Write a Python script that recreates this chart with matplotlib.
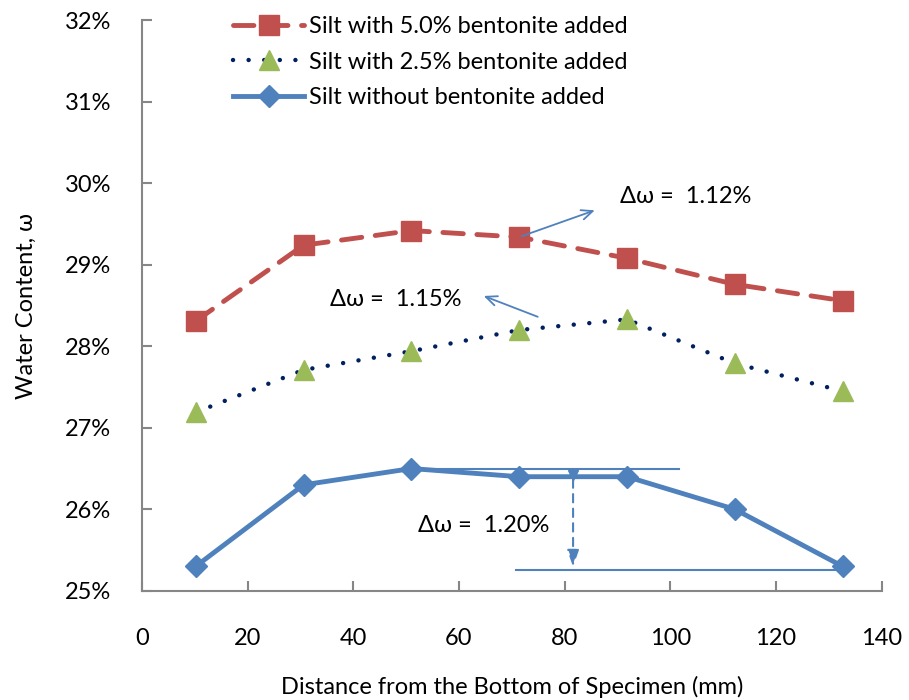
import matplotlib.pyplot as plt
from matplotlib.ticker import PercentFormatter

plt.rcParams['font.family'] = ['Lato', 'DejaVu Sans']

# layer mid-heights (mm)
distance = [10.2, 30.6, 51.0, 71.4, 91.8, 112.2, 132.6]
w_5p0 = [28.31, 29.24, 29.42, 29.34, 29.08, 28.76, 28.56]
w_2p5 = [27.19, 27.71, 27.94, 28.20, 28.33, 27.79, 27.45]
w_0p0 = [25.30, 26.30, 26.50, 26.40, 26.40, 26.00, 25.30]

labels = ["Silt with 5.0% bentonite added",
          "Silt with 2.5% bentonite added",
          "Silt without bentonite added"]
delta_text = ["Δω =  1.12%", "Δω =  1.15%", "Δω =  1.20%"]

RED = "#C0504D"
GREEN = "#9BBB59"
NAVY = "#002060"
BLUE = "#4F81BD"
GRAY = "#868686"
FS = 17

fig = plt.figure(figsize=(9.09, 7.0), dpi=100)
ax = fig.add_axes([0.156, 0.156, 0.814, 0.815])

ax.plot(distance, w_5p0, color=RED, lw=3.5, dashes=(4.2, 2.8), dash_capstyle="round",
        marker="s", ms=14, mfc=RED, mec=RED, label=labels[0])
ax.plot(distance, w_2p5, color=NAVY, lw=3.2, dashes=(0.01, 3.5), dash_capstyle="round",
        marker="^", ms=15, mfc=GREEN, mec=GREEN, label=labels[1])
ax.plot(distance, w_0p0, color=BLUE, lw=3.5,
        marker="D", ms=11, mfc=BLUE, mec=BLUE, label=labels[2])

# annotations
ax.annotate("", xy=(86.2, 29.68), xytext=(71.4, 29.34),
            arrowprops=dict(arrowstyle="->,head_length=0.8,head_width=0.35", color=BLUE, lw=1.3))
ax.annotate("", xy=(64.2, 28.63), xytext=(75.4, 28.35),
            arrowprops=dict(arrowstyle="->,head_length=0.8,head_width=0.35", color=BLUE, lw=1.3))
ax.text(90.5, 29.84, delta_text[0], fontsize=FS, va="center", ha="left")
ax.text(35.6, 28.57, delta_text[1], fontsize=FS, va="center", ha="left")
ax.text(52.3, 25.80, delta_text[2], fontsize=FS, va="center", ha="left")

ax.plot([51.0, 101.7], [26.5, 26.5], color=BLUE, lw=1.5)
ax.plot([70.8, 132.6], [25.26, 25.26], color=BLUE, lw=1.5)
ax.annotate("", xy=(81.6, 25.26), xytext=(81.6, 26.4),
            arrowprops=dict(arrowstyle="-|>,head_length=1.0,head_width=0.35", color=BLUE,
                            lw=1.5, linestyle=(0, (4, 3))))
ax.plot([81.6], [26.42], marker="v", ms=7, color=BLUE)

ax.set_xlim(0, 140)
ax.set_ylim(25, 32)
ax.set_xticks(range(0, 141, 20))
ax.set_yticks(range(25, 33))
ax.yaxis.set_major_formatter(PercentFormatter(decimals=0))

for s in ["top", "right"]:
    ax.spines[s].set_visible(False)
for s in ["left", "bottom"]:
    ax.spines[s].set_color(GRAY)
    ax.spines[s].set_linewidth(1.5)
ax.tick_params(axis="both", direction="in", length=7, width=1.5, color=GRAY,
               labelsize=FS)
ax.tick_params(axis="x", pad=27)
ax.tick_params(axis="y", pad=22)

ax.set_xlabel("Distance from the Bottom of Specimen (mm)", fontsize=FS, labelpad=19)
ax.set_ylabel("Water Content, ω", fontsize=FS, labelpad=20)

ax.legend(loc="upper left", bbox_to_anchor=(0.095, 1.045), frameon=False, fontsize=FS,
          handlelength=3.0, handletextpad=0.2, labelspacing=0.62)

fig.savefig("out.png", dpi=100)
